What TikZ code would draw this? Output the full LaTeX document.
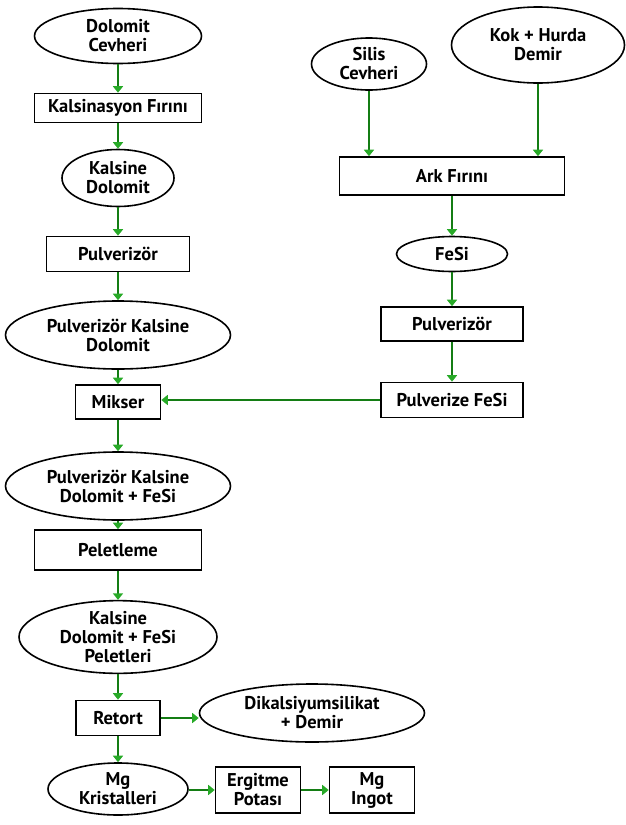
\documentclass[tikz,border=0pt]{standalone}
\usepackage{fontspec}
\setmainfont{PT Sans}
\usetikzlibrary{shapes.geometric,arrows.meta}
\definecolor{lgreen}{RGB}{20,125,20}
\definecolor{hgreen}{RGB}{40,170,40}
\begin{document}
\begin{tikzpicture}[x=1pt,y=-1pt,
  every node/.style={font=\fontsize{18.5}{19}\selectfont\bfseries, align=center, inner sep=0pt, line width=1.6pt},
  ell/.style={draw, ellipse},
  box/.style={draw, rectangle},
  flow/.style={draw=lgreen, line width=1.6pt, -{Triangle[width=10pt,length=6.5pt,color=hgreen]}}]
\useasboundingbox (0,0) rectangle (626,825);
% left column
\node[ell, minimum width=167, minimum height=55] (dc) at (118,36) {Dolomit\\Cevheri};
\node[box, minimum width=167, minimum height=29] (kf) at (118,108) {Kalsinasyon Fırını};
\node[ell, minimum width=112, minimum height=57] (kd) at (118,178) {Kalsine\\Dolomit};
\node[box, minimum width=143, minimum height=35] (pv1) at (118,254) {Pulverizör};
\node[ell, minimum width=225, minimum height=68] (pkd) at (118,335) {Pulverizör Kalsine\\Dolomit};
\node[box, minimum width=85, minimum height=34] (mk) at (118,402) {Mikser};
\node[ell, minimum width=225, minimum height=68] (pkdf) at (118,486) {Pulverizör Kalsine\\Dolomit + FeSi};
\node[box, minimum width=167, minimum height=40] (pel) at (118,550) {Peletleme};
\node[ell, minimum width=198, minimum height=72] (kdfp) at (118,637) {Kalsine\\Dolomit + FeSi\\Peletleri};
\node[box, minimum width=84, minimum height=35] (ret) at (118,718) {Retort};
\node[ell, minimum width=225, minimum height=58] (dik) at (312,713) {Dikalsiyumsilikat\\+ Demir};
\node[ell, minimum width=140, minimum height=52] (mgk) at (118,789) {Mg\\Kristalleri};
\node[box, minimum width=85, minimum height=46] (erg) at (258,790) {Ergitme\\Potası};
\node[box, minimum width=85, minimum height=46] (ing) at (372,790) {Mg\\Ingot};
% right column
\node[ell, minimum width=115, minimum height=52] (sc) at (369,64) {Silis\\Cevheri};
\node[ell, minimum width=173, minimum height=76] (kh) at (538,45) {Kok + Hurda\\Demir};
\node[box, minimum width=225, minimum height=38] (ark) at (452,176) {Ark Fırını};
\node[ell, minimum width=111, minimum height=35] (fesi) at (452,254) {FeSi};
\node[box, minimum width=142, minimum height=34] (pv2) at (452,324) {Pulverizör};
\node[box, minimum width=142, minimum height=35] (pf) at (452,400) {Pulverize FeSi};
% connectors
\draw[flow] (dc) -- (kf);
\draw[flow] (kf) -- (kd);
\draw[flow] (kd) -- (pv1);
\draw[flow] (pv1) -- (pkd);
\draw[flow] (pkd) -- (mk);
\draw[flow] (mk) -- (pkdf);
\draw[flow] (pkdf) -- (pel);
\draw[flow] (pel) -- (kdfp);
\draw[flow] (kdfp) -- (ret);
\draw[flow] (ret.east) -- (ret.east -| dik.west);
\draw[flow] (ret) -- (mgk);
\draw[flow] (mgk.east |- erg.west) -- (erg.west);
\draw[flow] (erg) -- (ing);
\draw[flow] (sc.south) -- (sc.south |- ark.north);
\draw[flow] (kh.south) -- (kh.south |- ark.north);
\draw[flow] (ark) -- (fesi);
\draw[flow] (fesi) -- (pv2);
\draw[flow] (pv2) -- (pf);
\draw[flow] (pf) -- (pf -| mk.east);
\end{tikzpicture}
\end{document}
